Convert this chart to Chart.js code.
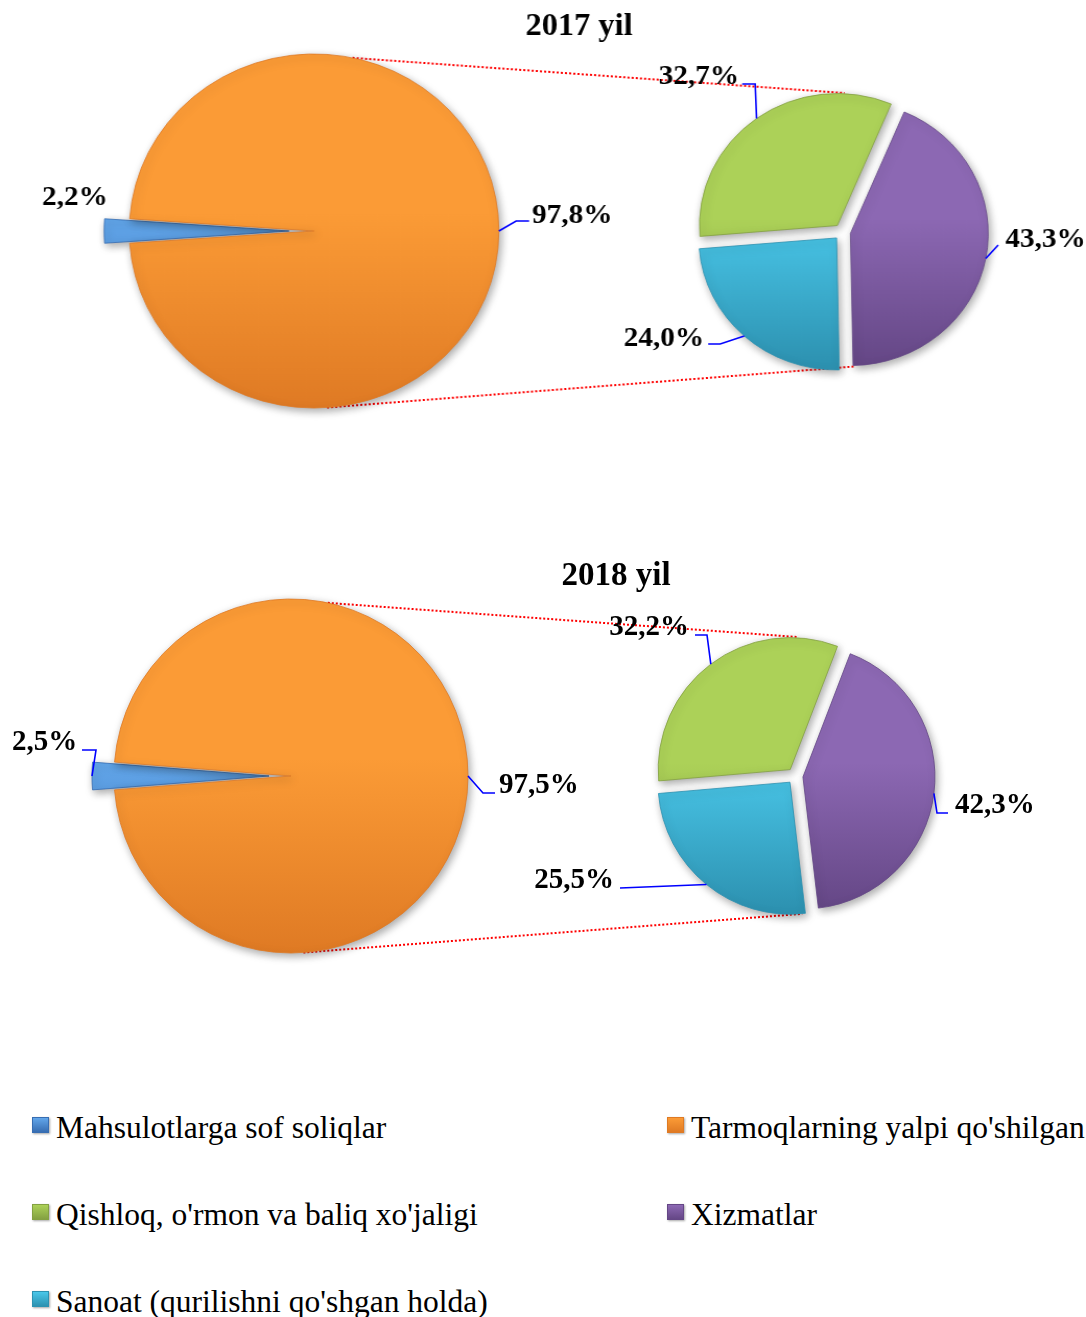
<!DOCTYPE html>
<html>
<head>
<meta charset="utf-8">
<script src="https://cdn.jsdelivr.net/npm/chart.js@4.4.0/dist/chart.umd.min.js"></script>
<style>
  body { margin: 0; background: #fff; }
  #page { position: relative; width: 1086px; height: 1317px; overflow: hidden; background: #fff; }
  #page canvas { position: absolute; left: 0; }
  .leg-item {
    position: absolute;
    font: 31.5px 'Liberation Serif', 'Times New Roman', serif;
    line-height: 36px;
    white-space: nowrap;
    color: #000;
  }
  .leg-box {
    position: absolute;
    left: 0; top: 7px;
    width: 17px; height: 16px;
    box-sizing: border-box;
    box-shadow: 1px 1px 2px rgba(0,0,0,0.35);
  }
  .leg-text { position: absolute; left: 24px; top: 0; }
</style>
</head>
<body>
<div id="page">
  <canvas id="chart2017" width="1040" height="480" style="top:0;width:1086px;height:480px"></canvas>
  <canvas id="chart2018" width="1086" height="460" style="top:540px;width:1086px;height:460px"></canvas>
  <div id="legend"></div>
</div>
<script>
// legend order; first pie = [Mahsulotlarga, Tarmoqlarning], second pie = [Qishloq, Xizmatlar, Sanoat]
const categories = [
  "Mahsulotlarga sof soliqlar",
  "Tarmoqlarning yalpi qo'shilgan qiymati",
  "Qishloq, o'rmon va baliq xo'jaligi",
  "Xizmatlar",
  "Sanoat (qurilishni qo'shgan holda)"
];
const years = ["2017 yil", "2018 yil"];

const main2017 = [2.2, 97.8];
const sub2017 = [32.7, 43.3, 24.0];
const main2018 = [2.5, 97.5];
const sub2018 = [32.2, 42.3, 25.5];

const lightColors = ['#62a6ea', '#fb9b36', '#acd158', '#8c68b3', '#4ac7e9'];
const darkColors = ['#376db2', '#df7a24', '#84a142', '#654786', '#2d92b1'];

const FONT = "'Liberation Serif', 'Times New Roman', serif";

// positions below are in page pixels; sx = horizontal stretch of the picture
const layout2017 = {
  sx: 1.044, top: 0, titleShift: 69, titleSize: 31, titleTop: 8, fontSize: 28,
  main: { cx: 314, cy: 231, r: 177, explode: 24 },
  sub: { cx: 842, cy: 232, r: 132, explode: 8, start: 23 },
  connectors: [{ from: 12, to: 1, gap: 7 }, { from: 176, to: 175, gap: 3 }],
  labels: [
    { x: 42, y: 205, align: 'left', pts: null },
    { x: 532, y: 223, align: 'left', pts: [[516, 221], [529, 221]] },
    { x: 739, y: 84, align: 'right', pts: [[755, 84], [742, 84]] },
    { x: 1005, y: 247, align: 'left', pts: [[998, 245]] },
    { x: 704, y: 346, align: 'right', pts: [[720, 344], [708, 344]] }
  ]
};
const layout2018 = {
  sx: 1, top: 540, titleShift: 146, titleSize: 33, titleTop: 17, fontSize: 29,
  main: { cx: 291, cy: 776, r: 177, explode: 22 },
  sub: { cx: 795, cy: 776, r: 132, explode: 8, start: 21 },
  connectors: [{ from: 12, to: 1, gap: 7 }, { from: 176, to: 177, gap: 6 }],
  labels: [
    { x: 12, y: 750, align: 'left', pts: [[96, 750], [82, 750]] },
    { x: 499, y: 793, align: 'left', pts: [[483, 793], [495, 793]] },
    { x: 689, y: 635, align: 'right', pts: [[707, 635], [695, 635]] },
    { x: 955, y: 813, align: 'left', pts: [[937, 813], [948, 813]] },
    { x: 614, y: 888, align: 'right', pts: [[620, 888]] }
  ]
};

function buildChart(canvasId, title, mainVals, subVals, L) {
  const px = x => x / L.sx;
  const py = y => y - L.top;
  const grads = {};

  function fill(c) {
    const ds = c.datasetIndex, i = c.dataIndex;
    const g = ds === 0 ? L.main : L.sub;
    const key = ds + '-' + i;
    if (!grads[key]) {
      const cy = py(g.cy);
      const gr = c.chart.ctx.createLinearGradient(0, cy - g.r, 0, cy + g.r);
      gr.addColorStop(0, lightColors[i]);
      gr.addColorStop(0.45, lightColors[i]);
      gr.addColorStop(1, darkColors[i]);
      grads[key] = gr;
    }
    return grads[key];
  }

  const pieOfPie = {
    id: 'pieOfPie',
    afterDatasetsUpdate(chart) {
      [L.main, L.sub].forEach((g, di) => {
        chart.getDatasetMeta(di).data.forEach((arc, i) => {
          const mid = (arc.startAngle + arc.endAngle) / 2;
          const d = (di === 0 && i !== 0) ? 0 : g.explode;
          arc.x = px(g.cx) + Math.cos(mid) * d;
          arc.y = py(g.cy) + Math.sin(mid) * d;
          arc.innerRadius = 0;
          arc.outerRadius = g.r;
        });
      });
    },
    beforeDatasetsDraw(chart) {
      const ctx = chart.ctx;
      ctx.save();
      ctx.strokeStyle = '#ff0000';
      ctx.lineWidth = 2;
      ctx.setLineDash([2, 2]);
      L.connectors.forEach(cn => {
        const a1 = (cn.from - 90) * Math.PI / 180;
        const a2 = (cn.to - 90) * Math.PI / 180;
        const r2 = L.sub.r + cn.gap;
        ctx.beginPath();
        ctx.moveTo(px(L.main.cx) + Math.cos(a1) * L.main.r, py(L.main.cy) + Math.sin(a1) * L.main.r);
        ctx.lineTo(px(L.sub.cx) + Math.cos(a2) * r2, py(L.sub.cy) + Math.sin(a2) * r2);
        ctx.stroke();
      });
      ctx.restore();
      // soft shadow under the slices
      ctx.save();
      ctx.shadowColor = 'rgba(0,0,0,0.35)';
      ctx.shadowBlur = 8;
      ctx.shadowOffsetX = 2;
      ctx.shadowOffsetY = 3;
    },
    afterDatasetsDraw(chart) {
      const ctx = chart.ctx;
      ctx.restore();
      ctx.save();
      L.labels.forEach((lb, k) => {
        const di = k < 2 ? 0 : 1;
        const arc = chart.getDatasetMeta(di).data[k];
        const value = k < 2 ? mainVals[k] : subVals[k - 2];
        if (lb.pts) {
          const mid = (arc.startAngle + arc.endAngle) / 2;
          ctx.strokeStyle = '#0000ff';
          ctx.lineWidth = 1.6;
          ctx.beginPath();
          ctx.moveTo(arc.x + Math.cos(mid) * arc.outerRadius, arc.y + Math.sin(mid) * arc.outerRadius);
          lb.pts.forEach(p => ctx.lineTo(px(p[0]), py(p[1])));
          ctx.stroke();
        }
        ctx.fillStyle = '#000';
        ctx.font = 'bold ' + L.fontSize + 'px ' + FONT;
        ctx.textAlign = lb.align;
        ctx.textBaseline = 'alphabetic';
        ctx.fillText(value.toFixed(1).replace('.', ',') + '%', px(lb.x), py(lb.y));
      });
      ctx.restore();
    }
  };

  return new Chart(document.getElementById(canvasId), {
    type: 'pie',
    data: {
      labels: categories,
      datasets: [
        {
          data: [mainVals[0], mainVals[1], 0, 0, 0],
          rotation: -90 - mainVals[0] * 1.8,
          backgroundColor: fill,
          borderColor: c => darkColors[c.dataIndex],
          borderWidth: 0.8,
          hoverOffset: 0
        },
        {
          data: [0, 0, subVals[0], subVals[1], subVals[2]],
          rotation: L.sub.start - subVals[0] * 3.6,
          backgroundColor: fill,
          borderColor: c => darkColors[c.dataIndex],
          borderWidth: 0.8,
          hoverOffset: 0
        }
      ]
    },
    options: {
      responsive: false,
      devicePixelRatio: 1,
      animation: false,
      events: [],
      layout: { padding: { left: L.titleShift } },
      plugins: {
        legend: { display: false },
        tooltip: { enabled: false },
        title: {
          display: true,
          text: title,
          color: '#000',
          font: { family: FONT, size: L.titleSize, weight: 'bold' },
          padding: { top: L.titleTop, bottom: 0 }
        }
      }
    },
    plugins: [pieOfPie]
  });
}

buildChart('chart2017', years[0], main2017, sub2017, layout2017);
buildChart('chart2018', years[1], main2018, sub2018, layout2018);

// shared legend, two columns, row-major
const legendCols = [32, 667];
const legendRows = [1110, 1197, 1284];
const legend = document.getElementById('legend');
categories.forEach((name, i) => {
  const item = document.createElement('div');
  item.className = 'leg-item';
  item.style.left = legendCols[i % 2] + 'px';
  item.style.top = legendRows[Math.floor(i / 2)] + 'px';
  const box = document.createElement('span');
  box.className = 'leg-box';
  box.style.background = 'linear-gradient(' + lightColors[i] + ', ' + darkColors[i] + ')';
  box.style.border = '1px solid ' + darkColors[i];
  const txt = document.createElement('span');
  txt.className = 'leg-text';
  txt.textContent = name;
  item.appendChild(box);
  item.appendChild(txt);
  legend.appendChild(item);
});
</script>
</body>
</html>
